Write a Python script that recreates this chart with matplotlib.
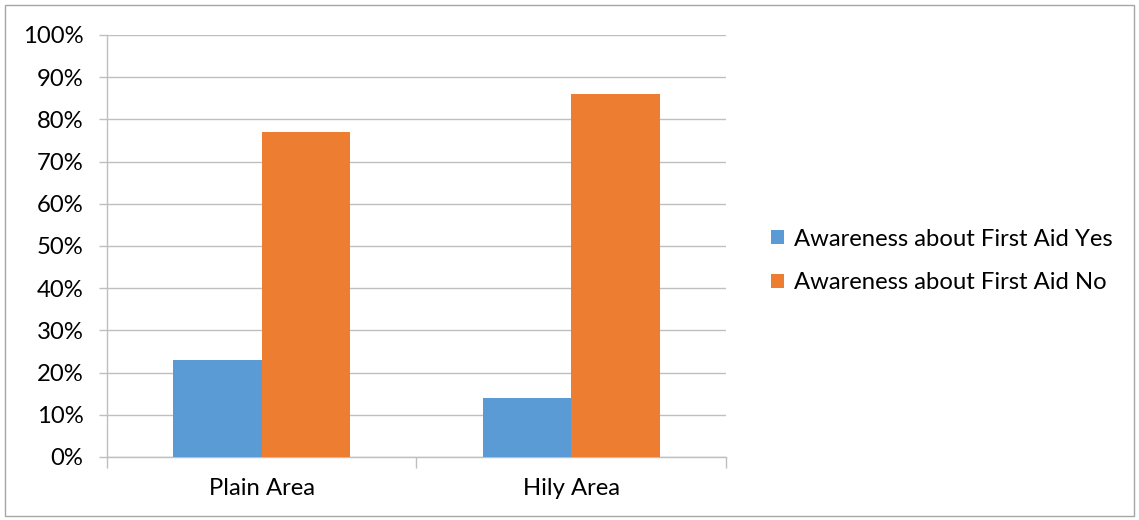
import matplotlib.pyplot as plt
import numpy as np
from matplotlib.patches import Rectangle

# Survey results by area
areas = ['Plain Area', 'Hily Area']
aware_yes = [23, 14]
aware_no = [77, 86]
series_names = ['Awareness about First Aid Yes', 'Awareness about First Aid No']
yticks = np.arange(0, 101, 10)

plt.rcParams['font.family'] = ['Lato', 'DejaVu Sans']
fs = 17.2

fig = plt.figure(figsize=(11.39, 5.2), dpi=100)
ax = fig.add_axes([0.0939, 0.1212, 0.5435, 0.8115])

grid_col = '#BFBFBF'
x = np.arange(len(areas))
w = 1 / 3.5
b1 = ax.bar(x - w / 2, aware_yes, w, color='#5B9BD5', label=series_names[0], zorder=3)
b2 = ax.bar(x + w / 2, aware_no, w, color='#ED7D31', label=series_names[1], zorder=3)

ax.set_xlim(-0.5, len(areas) - 0.5)
ax.set_ylim(0, 100)
ax.set_yticks(yticks)
ax.set_yticklabels([f'{v}%' for v in yticks], fontsize=fs, color='#000000')
ax.yaxis.grid(True, color=grid_col, linewidth=1, zorder=0)

# category labels centred, tick marks on the boundaries
ax.set_xticks(x)
ax.set_xticklabels(areas, fontsize=fs)
ax.tick_params(axis='x', length=0, pad=15)
ax.set_xticks(np.arange(len(areas) + 1) - 0.5, minor=True)
ax.tick_params(axis='x', which='minor', length=8, color=grid_col, width=1)
ax.tick_params(axis='y', length=6, color=grid_col, width=1, pad=11)

for s in ['top', 'right']:
    ax.spines[s].set_visible(False)
for s in ['left', 'bottom']:
    ax.spines[s].set_color(grid_col)
    ax.spines[s].set_linewidth(1)

fig.legend(handles=[b1, b2], loc='center left', bbox_to_anchor=(0.658, 0.498),
           frameon=False, fontsize=fs, handlelength=0.55, handleheight=0.55,
           handletextpad=0.4, labelspacing=0.95)

# outer chart border
fig.patches.append(Rectangle((0.0045, 0.008), 0.991, 0.983, transform=fig.transFigure,
                             fill=False, edgecolor='#A6A6A6', linewidth=1))

fig.savefig('out.png', dpi=100)
